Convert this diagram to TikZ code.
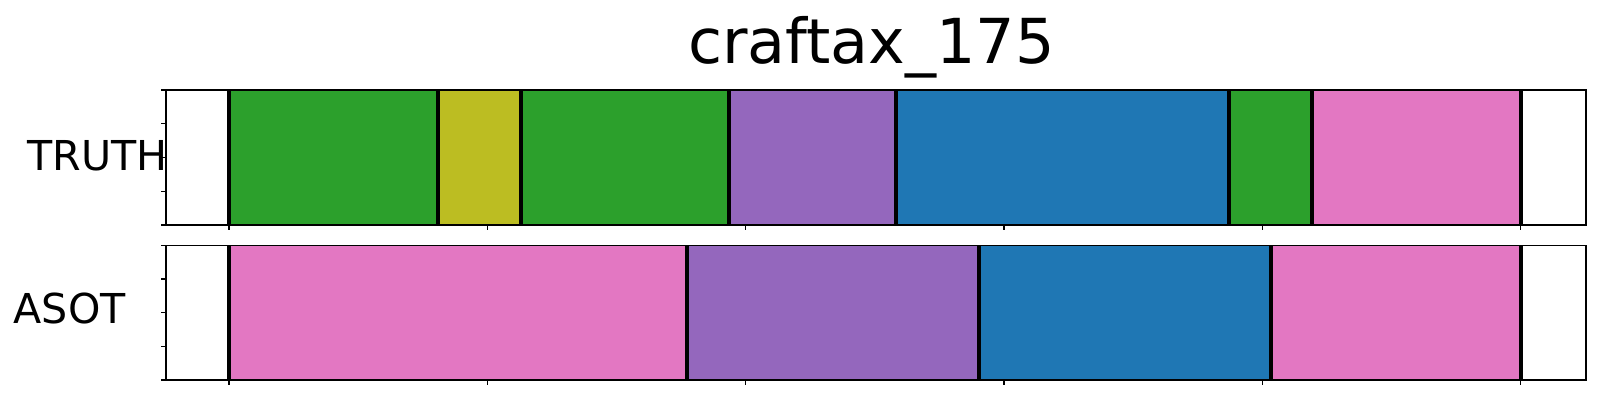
\documentclass[tikz,border=0pt]{standalone}
\usepackage{fontspec}
\setmainfont{DejaVu Sans}
\definecolor{tabgreen}{HTML}{2CA02C}
\definecolor{tabolive}{HTML}{BCBD22}
\definecolor{tabpurple}{HTML}{9467BD}
\definecolor{tabblue}{HTML}{1F77B4}
\definecolor{tabpink}{HTML}{E377C2}
\tikzset{
  bound/.style={line width=4pt, black},
  frame/.style={line width=1.6pt, black},
  tick/.style={line width=1.2pt, black},
  lab/.style={inner sep=0pt, font=\fontsize{41.2}{48}\selectfont},
  ttl/.style={inner sep=0pt, font=\fontsize{62}{74}\selectfont}
}
\begin{document}
\begin{tikzpicture}[x=1pt,y=-1pt]
\useasboundingbox (0,0) rectangle (1600,400);
\fill[white] (0,0) rectangle (1600,400);
% title
\node[ttl, anchor=base] (title) at (871.5,63.3) {craftax\_175};
% labels
\node[lab, anchor=base east] (truth) at (167.5,170) {TRUTH};
\node[lab, anchor=base west] (asot) at (13.5,323.3) {ASOT};
% ---- top axes (TRUTH)
\fill[tabgreen]  (229,90) rectangle (437.7,225);
\fill[tabolive]  (437.7,90) rectangle (520.7,225);
\fill[tabgreen]  (520.7,90) rectangle (729,225);
\fill[tabpurple] (729,90) rectangle (896,225);
\fill[tabblue]   (896,90) rectangle (1229,225);
\fill[tabgreen]  (1229,90) rectangle (1312,225);
\fill[tabpink]   (1312,90) rectangle (1520.5,225);
\foreach \x in {229,437.7,520.7,729,896,1229,1312,1520.5}
  \draw[bound] (\x,90) -- (\x,225);
\draw[frame] (165.7,90) rectangle (1585.7,225);
\foreach \y in {90,123.75,157.5,191.25,225}
  \draw[tick] (165.7,\y) -- (160.7,\y);
\foreach \x in {229,487.3,745.6,1003.9,1262.2,1520.5}
  \draw[tick] (\x,225) -- (\x,230);
% ---- bottom axes (ASOT)
\fill[tabpink]   (229,245.3) rectangle (686.7,380);
\fill[tabpurple] (686.7,245.3) rectangle (979,380);
\fill[tabblue]   (979,245.3) rectangle (1271,380);
\fill[tabpink]   (1271,245.3) rectangle (1520.5,380);
\foreach \x in {229,686.7,979,1271,1520.5}
  \draw[bound] (\x,245.3) -- (\x,380);
\draw[frame] (165.7,245.3) rectangle (1585.7,380);
\foreach \y in {245.3,279,312.65,346.3,380}
  \draw[tick] (165.7,\y) -- (160.7,\y);
\foreach \x in {229,487.3,745.6,1003.9,1262.2,1520.5}
  \draw[tick] (\x,380) -- (\x,385);
\end{tikzpicture}
\end{document}
